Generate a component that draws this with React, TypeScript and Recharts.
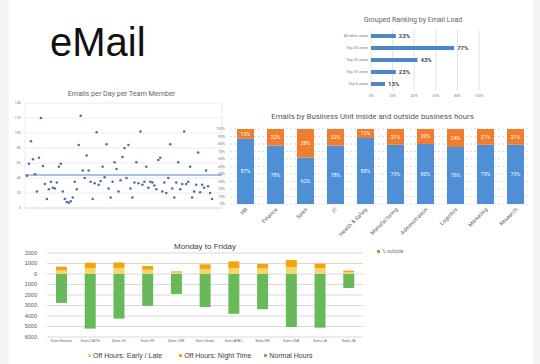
import React from 'react';
import {
  BarChart,
  Bar,
  XAxis,
  YAxis,
  CartesianGrid,
  LabelList,
  ScatterChart,
  Scatter,
  ReferenceLine,
} from 'recharts';

// Grouped ranking (top right)
const rankingGroups = ['All other users', 'Top 50 users', 'Top 25 users', 'Top 10 users', 'Top 5 users'];
const rankingShare = [23, 77, 43, 23, 13];
const rankingTicks = [0, 20, 40, 60, 80, 100];

// Emails per day per team member (scatter)
const emailsPerDay = [
  43, 59, 89, 65, 45, 22, 67, 120, 56, 32,
  12, 25, 35, 27, 26, 34, 55, 59, 22, 12,
  8, 7, 9, 14, 35, 25, 84, 123, 50, 40,
  70, 50, 35, 12, 33, 101, 31, 36, 55, 41,
  85, 26, 14, 35, 61, 52, 22, 37, 68, 80,
  40, 84, 26, 14, 34, 61, 33, 102, 31, 35,
  55, 27, 35, 34, 30, 25, 64, 67, 22, 34,
  20, 40, 85, 26, 14, 34, 61, 25, 32, 102,
  32, 35, 55, 14, 22, 31, 74, 21, 31, 27,
  50, 29, 20, 12,
];
const emailsAverage = 44;
const emailTicks = [0, 20, 40, 60, 80, 100, 120, 140];
const memberGridTicks = [1, 11, 21, 31, 41, 51, 61, 71, 81, 91];

// Business units inside / outside business hours
const businessUnits = ['HR', 'Finance', 'Sales', 'IT', 'Health & Safety', 'Manufacturing', 'Administration', 'Logistics', 'Marketing', 'Research'];
const insideHours = [87, 78, 62, 78, 88, 79, 80, 76, 79, 79];
const outsideHours = [13, 22, 38, 22, 12, 21, 20, 24, 21, 21];
const percentTicks = [0, 10, 20, 30, 40, 50, 60, 70, 80, 90, 100];

// Monday to Friday by sales region
const salesRegions = ['Sales Benelux', 'Sales DACH', 'Sales UK', 'Sales FR', 'Sales CEE', 'Sales Nordic', 'Sales APAC', 'Sales ME', 'Sales USA', 'Sales LA', 'Sales ZA'];
const earlyLate = [330, 550, 580, 400, 150, 480, 560, 520, 650, 550, 180];
const nightTime = [370, 520, 520, 360, 100, 440, 640, 430, 680, 430, 140];
const normalHours = [2750, 5200, 4250, 3030, 1900, 3150, 3790, 3350, 5050, 5110, 1330];
const hourTicks = [2000, 1000, 0, -1000, -2000, -3000, -4000, -5000, -6000];

const rankingData = rankingGroups.map((group, i) => ({ group, share: rankingShare[i] }));
const scatterData = emailsPerDay.map((v, i) => ({ member: i + 1, emails: v }));
const unitData = businessUnits.map((unit, i) => ({ unit, inside: insideHours[i], outside: outsideHours[i] }));
const regionData = salesRegions.map((region, i) => ({
  region,
  early: earlyLate[i],
  night: nightTime[i],
  normal: -normalHours[i],
}));

const roboto = 'Roboto, "Noto Sans", sans-serif';
const arial = '"Liberation Sans", Arial, sans-serif';

const UnitTick = (props: any) => {
  const { x, y, payload } = props;
  return (
    <text x={x} y={y} dy={4} textAnchor="end" fontSize={5.5} fill="#5f5f5f" transform={`rotate(-45 ${x} ${y})`}>
      {payload.value}
    </text>
  );
};

// plain tick so long names don't wrap
const GroupTick = (props: any) => {
  const { x, y, payload } = props;
  return (
    <text x={x} y={y} dy={1.3} textAnchor="end" fontSize={3.8} fill="#777">
      {payload.value}
    </text>
  );
};

const Dot = (props: any) => <circle cx={props.cx} cy={props.cy} r={1.3} fill="#4f6f9f" />;

export default function App() {
  return (
    <div style={{ position: 'fixed', left: 0, top: 0, width: 540, height: 364, background: '#f3f5f9', overflow: 'hidden' }}>
      <div style={{ position: 'absolute', left: 9, top: 0, width: 524, height: 364, background: '#fff' }} />

      {/* big title */}
      <div style={{ position: 'absolute', left: 50, top: 19, fontFamily: arial, fontSize: 40, lineHeight: '46px', color: '#111' }}>
        eMail
      </div>

      {/* Grouped ranking */}
      <div style={{ position: 'absolute', left: 300, top: 16, width: 226, textAlign: 'center', fontFamily: roboto, fontSize: 7, color: '#666' }}>
        Grouped Ranking by Email Load
      </div>
      <div style={{ position: 'absolute', left: 300, top: 10, fontFamily: roboto }}>
        <BarChart width={200} height={95} layout="vertical" data={rankingData} margin={{ top: 20, right: 21, bottom: 5, left: 0 }}>
          <CartesianGrid horizontal={false} stroke="#e4e4e4" />
          <XAxis type="number" domain={[0, 100]} ticks={rankingTicks} interval={0} tickFormatter={(v) => `${v}%`} axisLine={false} tickLine={false} tickSize={0} tickMargin={4} height={10} tick={{ fontSize: 3.6, fill: '#888' }} />
          <YAxis type="category" dataKey="group" width={71} interval={0} axisLine={false} tickLine={false} tickSize={0} tickMargin={3} tick={<GroupTick />} />
          <Bar dataKey="share" fill="#4a86c8" barSize={4} isAnimationActive={false}>
            <LabelList dataKey="share" position="right" offset={3} formatter={(v: any) => `${v}%`} style={{ fontSize: 6, fontWeight: 700, fill: '#444' }} />
          </Bar>
        </BarChart>
      </div>

      {/* Emails per day */}
      <div style={{ position: 'absolute', left: 9, top: 89, width: 225, textAlign: 'center', fontFamily: roboto, fontSize: 7.2, color: '#666' }}>
        Emails per Day per Team Member
      </div>
      <div style={{ position: 'absolute', left: 9, top: 86, fontFamily: roboto }}>
        <ScatterChart width={225} height={130} margin={{ top: 17, right: 12, bottom: 7, left: 0 }}>
          <CartesianGrid stroke="#ececec" />
          <XAxis type="number" dataKey="member" domain={[0, 99]} ticks={memberGridTicks} interval={0} tick={false} tickLine={false} axisLine={{ stroke: '#e0e0e0' }} height={1} />
          <YAxis type="number" dataKey="emails" domain={[0, 140]} ticks={emailTicks} interval={0} width={16} axisLine={false} tickLine={false} tickSize={0} tickMargin={4} tick={{ fontSize: 3.8, fill: '#888' }} />
          <ReferenceLine y={emailsAverage} stroke="#5b84c4" strokeWidth={1} />
          <Scatter data={scatterData} shape={<Dot />} isAnimationActive={false} />
        </ScatterChart>
      </div>

      {/* Business units */}
      <div style={{ position: 'absolute', left: 205, top: 112, width: 335, textAlign: 'center', fontFamily: roboto, fontSize: 7.8, color: '#555' }}>
        Emails by Business Unit inside and outside business hours
      </div>
      <div style={{ position: 'absolute', left: 205, top: 122, fontFamily: roboto }}>
        <BarChart width={330} height={125} data={unitData} margin={{ top: 7, right: 5, bottom: 0, left: 0 }} barSize={17}>
          <CartesianGrid vertical={false} stroke="#dedede" strokeDasharray="2 2" />
          <XAxis dataKey="unit" interval={0} axisLine={false} tickLine={false} tickSize={0} tickMargin={3} height={43} tick={<UnitTick />} />
          <YAxis type="number" domain={[0, 100]} ticks={percentTicks} interval={0} tickFormatter={(v) => `${v}%`} width={25} axisLine={false} tickLine={false} tickSize={0} tickMargin={5} tick={{ fontSize: 3.8, fill: '#888' }} />
          <Bar dataKey="inside" stackId="a" fill="#4f8fd6" isAnimationActive={false}>
            <LabelList dataKey="inside" position="center" formatter={(v: any) => `${v}%`} style={{ fontSize: 5, fill: '#fff' }} />
          </Bar>
          <Bar dataKey="outside" stackId="a" fill="#ef7d2d" isAnimationActive={false}>
            <LabelList dataKey="outside" position="center" formatter={(v: any) => `${v}%`} style={{ fontSize: 5, fill: '#fff' }} />
          </Bar>
        </BarChart>
      </div>
      <div style={{ position: 'absolute', left: 377, top: 248, fontFamily: roboto, fontSize: 5, color: '#777', display: 'flex', alignItems: 'center' }}>
        <span style={{ width: 3, height: 3, background: '#ef7d2d', marginRight: 2 }} />% outside
      </div>

      {/* Monday to Friday */}
      <div style={{ position: 'absolute', left: 47, top: 242, width: 316, textAlign: 'center', fontFamily: arial, fontSize: 8, color: '#404040' }}>
        Monday to Friday
      </div>
      <div style={{ position: 'absolute', left: 9, top: 240, fontFamily: arial }}>
        <BarChart width={365} height={124} data={regionData} stackOffset="sign" margin={{ top: 13, right: 11, bottom: 17, left: 0 }} barSize={11}>
          <CartesianGrid vertical={false} stroke="#d9d9d9" />
          <XAxis dataKey="region" interval={0} axisLine={false} tickLine={false} tickSize={0} tickMargin={3} height={10} tick={{ fontSize: 3.4, fill: '#666' }} />
          <YAxis type="number" domain={[-6000, 2000]} ticks={hourTicks} interval={0} tickFormatter={(v) => `${Math.abs(v)}`} width={38} axisLine={false} tickLine={false} tickSize={0} tickMargin={10} tick={{ fontSize: 5.5, fill: '#555' }} />
          <Bar dataKey="early" stackId="h" fill="#f5d66c" isAnimationActive={false} />
          <Bar dataKey="night" stackId="h" fill="#f5a20f" isAnimationActive={false} />
          <Bar dataKey="normal" stackId="h" fill="#68b95a" isAnimationActive={false} />
        </BarChart>
      </div>
      <div style={{ position: 'absolute', left: 88, top: 352, fontFamily: arial, fontSize: 7, color: '#404040', display: 'flex', alignItems: 'center', whiteSpace: 'nowrap' }}>
        <span style={{ width: 3, height: 3, background: '#f5d66c', marginRight: 2 }} />
        <span style={{ marginRight: 17 }}>Off Hours: Early / Late</span>
        <span style={{ width: 3, height: 3, background: '#f5a20f', marginRight: 2 }} />
        <span style={{ marginRight: 13 }}>Off Hours: Night Time</span>
        <span style={{ width: 3, height: 3, background: '#68b95a', marginRight: 2 }} />
        <span>Normal Hours</span>
      </div>
    </div>
  );
}
